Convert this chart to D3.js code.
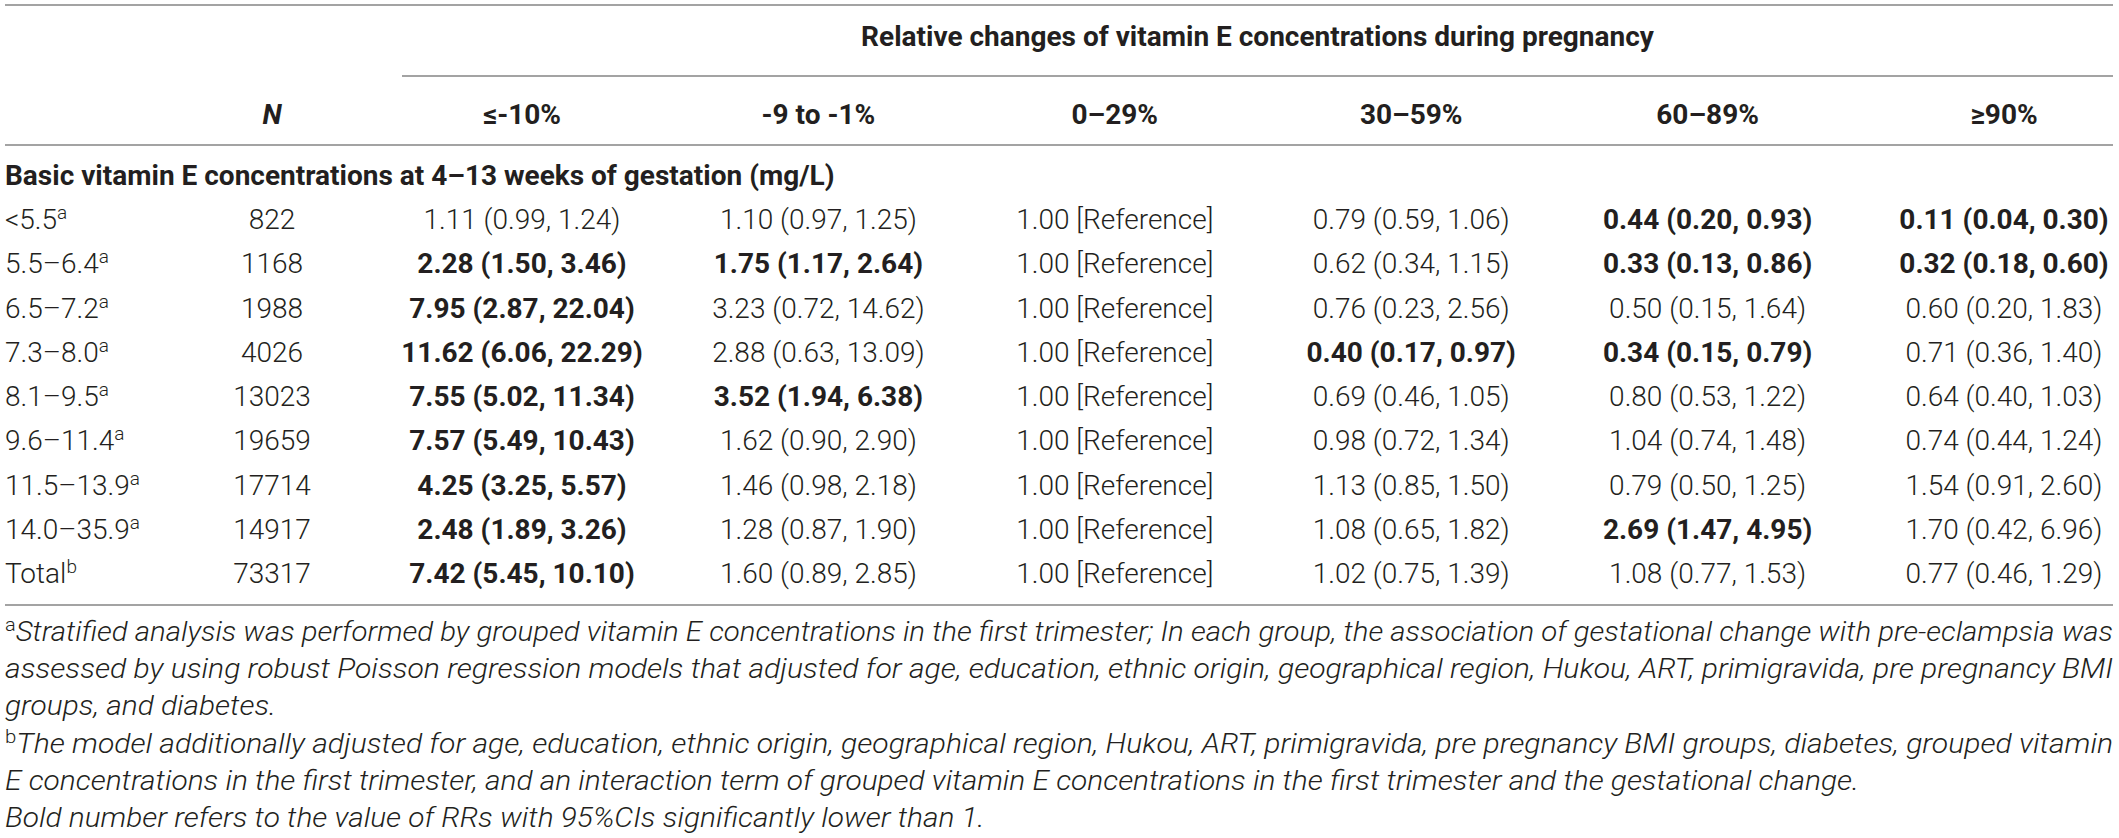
<!DOCTYPE html>
<html>
<head>
<meta charset="utf-8">
<script src="https://cdn.jsdelivr.net/npm/d3@7"></script>
<style>
  html, body { margin: 0; padding: 0; background: #fff; }
  svg { display: block; }
  text { font-family: Roboto, "Liberation Sans", sans-serif; fill: #231f20; }
</style>
</head>
<body>
<div id="chart"></div>
<script>
// table contents
var groupTitle = 'Relative changes of vitamin E concentrations during pregnancy';
var sectionTitle = 'Basic vitamin E concentrations at 4–13 weeks of gestation (mg/L)';
var changeBands = ['≤-10%', '-9 to -1%', '0–29%', '30–59%', '60–89%', '≥90%'];
var baseGroups = ['<5.5', '5.5–6.4', '6.5–7.2', '7.3–8.0', '8.1–9.5', '9.6–11.4', '11.5–13.9', '14.0–35.9', 'Total'];
var groupNotes = ['a', 'a', 'a', 'a', 'a', 'a', 'a', 'a', 'b'];
var nValues = [822, 1168, 1988, 4026, 13023, 19659, 17714, 14917, 73317];

// RR, lower 95% CI, upper 95% CI for each change band (null = reference)
var rrLe10 = [[1.11, 0.99, 1.24], [2.28, 1.50, 3.46], [7.95, 2.87, 22.04], [11.62, 6.06, 22.29], [7.55, 5.02, 11.34], [7.57, 5.49, 10.43], [4.25, 3.25, 5.57], [2.48, 1.89, 3.26], [7.42, 5.45, 10.10]];
var rrM9to1 = [[1.10, 0.97, 1.25], [1.75, 1.17, 2.64], [3.23, 0.72, 14.62], [2.88, 0.63, 13.09], [3.52, 1.94, 6.38], [1.62, 0.90, 2.90], [1.46, 0.98, 2.18], [1.28, 0.87, 1.90], [1.60, 0.89, 2.85]];
var rr0to29 = [null, null, null, null, null, null, null, null, null];
var rr30to59 = [[0.79, 0.59, 1.06], [0.62, 0.34, 1.15], [0.76, 0.23, 2.56], [0.40, 0.17, 0.97], [0.69, 0.46, 1.05], [0.98, 0.72, 1.34], [1.13, 0.85, 1.50], [1.08, 0.65, 1.82], [1.02, 0.75, 1.39]];
var rr60to89 = [[0.44, 0.20, 0.93], [0.33, 0.13, 0.86], [0.50, 0.15, 1.64], [0.34, 0.15, 0.79], [0.80, 0.53, 1.22], [1.04, 0.74, 1.48], [0.79, 0.50, 1.25], [2.69, 1.47, 4.95], [1.08, 0.77, 1.53]];
var rrGe90 = [[0.11, 0.04, 0.30], [0.32, 0.18, 0.60], [0.60, 0.20, 1.83], [0.71, 0.36, 1.40], [0.64, 0.40, 1.03], [0.74, 0.44, 1.24], [1.54, 0.91, 2.60], [1.70, 0.42, 6.96], [0.77, 0.46, 1.29]];
var rrColumns = [rrLe10, rrM9to1, rr0to29, rr30to59, rr60to89, rrGe90];

var footnotes = [
  {sup: 'a', text: 'Stratified analysis was performed by grouped vitamin E concentrations in the first trimester; In each group, the association of gestational change with pre-eclampsia was', justify: true},
  {sup: '', text: 'assessed by using robust Poisson regression models that adjusted for age, education, ethnic origin, geographical region, Hukou, ART, primigravida, pre pregnancy BMI', justify: true},
  {sup: '', text: 'groups, and diabetes.', justify: false},
  {sup: 'b', text: 'The model additionally adjusted for age, education, ethnic origin, geographical region, Hukou, ART, primigravida, pre pregnancy BMI groups, diabetes, grouped vitamin', justify: true},
  {sup: '', text: 'E concentrations in the first trimester, and an interaction term of grouped vitamin E concentrations in the first trimester and the gestational change.', justify: false},
  {sup: '', text: 'Bold number refers to the value of RRs with 95%CIs significantly lower than 1.', justify: false}
];

var width = 2119;
var height = 838;
var left = 5;
var right = 2113;
var fontSize = 28;
var lineColor = '#a3a3a3';

var svg = d3.select('#chart')
  .append('svg')
  .attr('width', width)
  .attr('height', height);

var x = d3.scalePoint()
  .domain(changeBands)
  .range([522, 2004]);
var xN = 272;

var y = d3.scalePoint()
  .domain(baseGroups)
  .range([229, 583]);

function hline(y0, x0, x1) {
  svg.append('line')
    .attr('x1', x0).attr('x2', x1)
    .attr('y1', y0).attr('y2', y0)
    .attr('stroke', lineColor)
    .attr('stroke-width', 2);
}

hline(5, left, right);
hline(76, 402, right);
hline(145, left, right);
hline(605, left, right);

// header
svg.append('text')
  .attr('x', (402 + right) / 2)
  .attr('y', 46)
  .attr('text-anchor', 'middle')
  .attr('font-size', fontSize)
  .attr('font-weight', 700)
  .text(groupTitle);

svg.append('text')
  .attr('x', xN)
  .attr('y', 124)
  .attr('text-anchor', 'middle')
  .attr('font-size', fontSize)
  .attr('font-weight', 700)
  .attr('font-style', 'italic')
  .text('N');

svg.selectAll('.band')
  .data(changeBands)
  .enter()
  .append('text')
  .attr('class', 'band')
  .attr('x', function (d) { return x(d); })
  .attr('y', 124)
  .attr('text-anchor', 'middle')
  .attr('font-size', fontSize)
  .attr('font-weight', 700)
  .text(function (d) { return d; });

svg.append('text')
  .attr('x', left)
  .attr('y', 185)
  .attr('font-size', fontSize)
  .attr('font-weight', 700)
  .text(sectionTitle);

// body rows
var rows = svg.selectAll('.row')
  .data(baseGroups)
  .enter()
  .append('g')
  .attr('class', 'row')
  .attr('transform', function (d) { return 'translate(0,' + y(d) + ')'; });

var label = rows.append('text')
  .attr('x', left)
  .attr('font-size', fontSize)
  .attr('font-weight', 300);
label.append('tspan').text(function (d) { return d; });
label.append('tspan')
  .attr('dy', -10)
  .attr('font-size', 19)
  .text(function (d, i) { return groupNotes[i]; });

rows.append('text')
  .attr('x', xN)
  .attr('text-anchor', 'middle')
  .attr('font-size', fontSize)
  .attr('font-weight', 300)
  .text(function (d, i) { return nValues[i]; });

rows.each(function (g, i) {
  var cells = rrColumns.map(function (col, j) {
    return {band: changeBands[j], v: col[i]};
  });
  d3.select(this).selectAll('.cell')
    .data(cells)
    .enter()
    .append('text')
    .attr('class', 'cell')
    .attr('x', function (d) { return x(d.band); })
    .attr('text-anchor', 'middle')
    .attr('font-size', fontSize)
    .attr('font-weight', function (d) {
      // bold when the CI does not include 1
      return d.v && (d.v[1] > 1 || d.v[2] < 1) ? 700 : 300;
    })
    .text(function (d) {
      if (!d.v) return '1.00 [Reference]';
      return d.v[0].toFixed(2) + ' (' + d.v[1].toFixed(2) + ', ' + d.v[2].toFixed(2) + ')';
    });
});

// footnotes
var notes = svg.selectAll('.note')
  .data(footnotes)
  .enter()
  .append('text')
  .attr('class', 'note')
  .attr('x', left)
  .attr('y', function (d, i) { return 641 + i * 37.2; })
  .attr('font-size', fontSize)
  .attr('font-weight', 300);

notes.filter(function (d) { return d.sup; })
  .append('tspan')
  .attr('dy', -10)
  .attr('font-size', 19)
  .text(function (d) { return d.sup; });
notes.append('tspan')
  .attr('dy', function (d) { return d.sup ? 10 : 0; })
  .attr('font-style', 'italic')
  .text(function (d) { return d.text; });

// justify the full lines, keep the same squeeze on the short ones
var ratios = [];
notes.each(function (d) {
  d.natural = this.getComputedTextLength();
  if (d.justify) ratios.push((right - left) / d.natural);
});
var k = d3.mean(ratios);
notes.attr('textLength', function (d) { return d.justify ? right - left : d.natural * k; })
  .attr('lengthAdjust', 'spacingAndGlyphs');
</script>
</body>
</html>
